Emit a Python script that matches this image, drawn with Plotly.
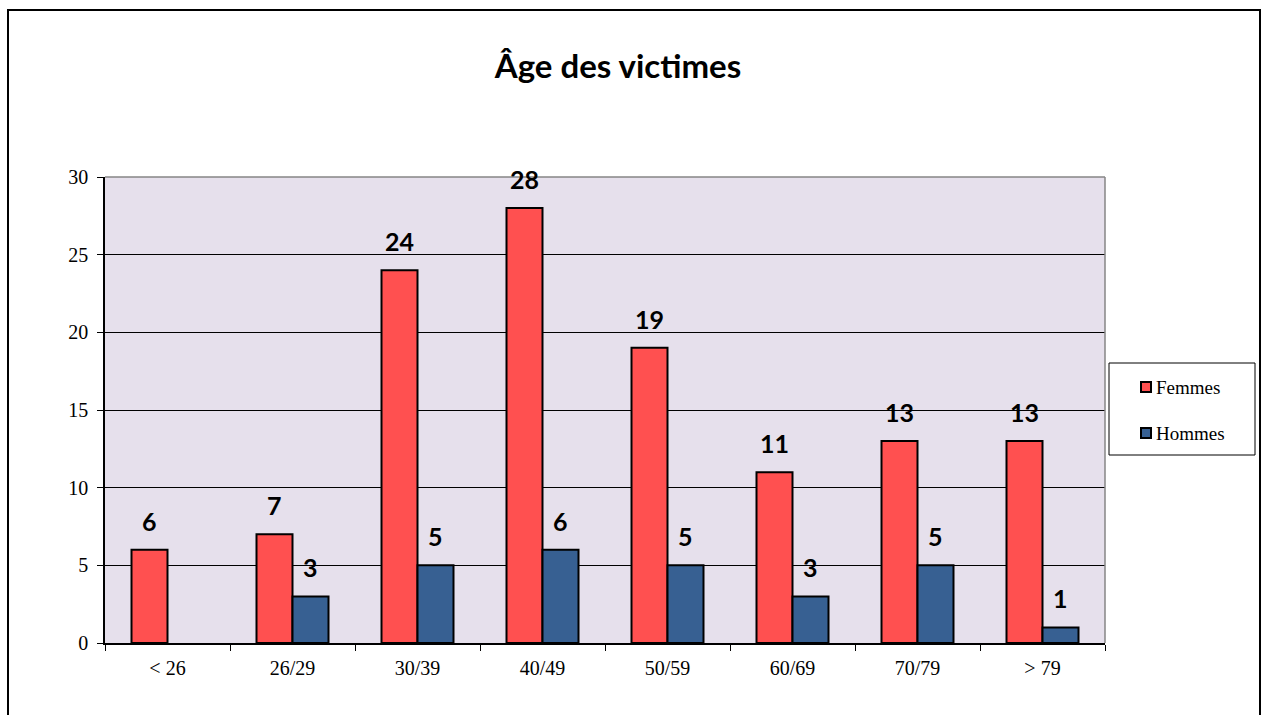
import plotly.graph_objects as go

categories = ["< 26", "26/29", "30/39", "40/49", "50/59", "60/69", "70/79", "> 79"]
femmes = [6, 7, 24, 28, 19, 11, 13, 13]
hommes = [None, 3, 5, 6, 5, 3, 5, 1]
series_names = ["Femmes", "Hommes"]
y_ticks = [0, 5, 10, 15, 20, 25, 30]

RED = "#FF5050"
BLUE = "#376092"
BG = "#E6E0EC"
SERIF = "Liberation Serif, Times New Roman, serif"
SANS = "Lato, Open Sans, sans-serif"
colors = [RED, BLUE]

fig = go.Figure()
for name, vals, col in zip(series_names, (femmes, hommes), colors):
    fig.add_trace(go.Bar(name=name, x=categories, y=vals,
                         marker=dict(color=col, line=dict(color="black", width=2)), showlegend=False))

# data labels
for i, c in enumerate(categories):
    for vals, shift in ((femmes, -18), (hommes, 18)):
        v = vals[i]
        if v is None:
            continue
        fig.add_annotation(x=c, y=v, text=f"<b>{v}</b>", showarrow=False, xshift=shift, yshift=29,
                           yanchor="middle", font=dict(family=SANS, size=25, color="black"))

L, R, T, B = 105, 157, 177, 72
W, H = 1262, 715
pw, ph = W - L - R, H - T - B

def px(xp):
    return (xp - L) / pw

def py(yp):
    return (H - B - yp) / ph

shapes = [
    # outer frame
    dict(type="rect", xref="paper", yref="paper", x0=px(8), x1=px(1260), y0=py(716), y1=py(10),
         line=dict(color="black", width=2), fillcolor="rgba(0,0,0,0)", layer="above"),
    # plot area top and right border (gray)
    dict(type="line", xref="paper", yref="paper", x0=0, x1=1, y0=1, y1=1, line=dict(color="#868686", width=1.5)),
    dict(type="line", xref="paper", yref="paper", x0=1, x1=1, y0=0, y1=1, line=dict(color="#868686", width=1.5)),
    # legend box
    dict(type="rect", xref="paper", yref="paper", x0=px(1109), x1=px(1255), y0=py(455), y1=py(363),
         line=dict(color="black", width=1), fillcolor="white", layer="below"),
]

# manual legend (symbol + text)
for k, (name, col) in enumerate(zip(series_names, colors)):
    cy = 387 + k * 46
    shapes.append(dict(type="rect", xref="paper", yref="paper", x0=px(1141), x1=px(1151),
                       y0=py(cy + 5), y1=py(cy - 5), line=dict(color="black", width=2), fillcolor=col))
    fig.add_annotation(xref="paper", yref="paper", x=px(1154), y=py(cy), text=name, showarrow=False,
                       xanchor="left", yanchor="middle", font=dict(family=SERIF, size=19, color="black"))

fig.update_layout(
    width=W, height=H,
    margin=dict(l=L, r=R, t=T, b=B, pad=0),
    paper_bgcolor="white",
    plot_bgcolor=BG,
    barmode="group",
    bargap=0.424,
    bargroupgap=0,
    title=dict(text="<b>Âge des victimes</b>", x=px(618), xref="paper", xanchor="center", y=1 - 66 / H,
               yanchor="middle", font=dict(family=SANS, size=33, color="black")),
    showlegend=False,
    shapes=shapes,
    xaxis=dict(tickson="boundaries", ticks="outside", ticklen=6, tickcolor="black", showline=True, linecolor="black",
               linewidth=1.5, tickfont=dict(family=SERIF, size=20, color="black"), showgrid=False,
               ticklabelstandoff=6),
    yaxis=dict(range=[0, 30], tickvals=y_ticks, ticks="outside", ticklen=6, tickcolor="black", showline=True,
               linecolor="black", linewidth=1.5, gridcolor="black", gridwidth=1, zeroline=False,
               tickfont=dict(family=SERIF, size=20, color="black"), ticklabelstandoff=5),
)

fig.write_html("out.html", config={"displayModeBar": False},
               post_script="document.body.style.margin='0';document.body.style.overflow='hidden';")
